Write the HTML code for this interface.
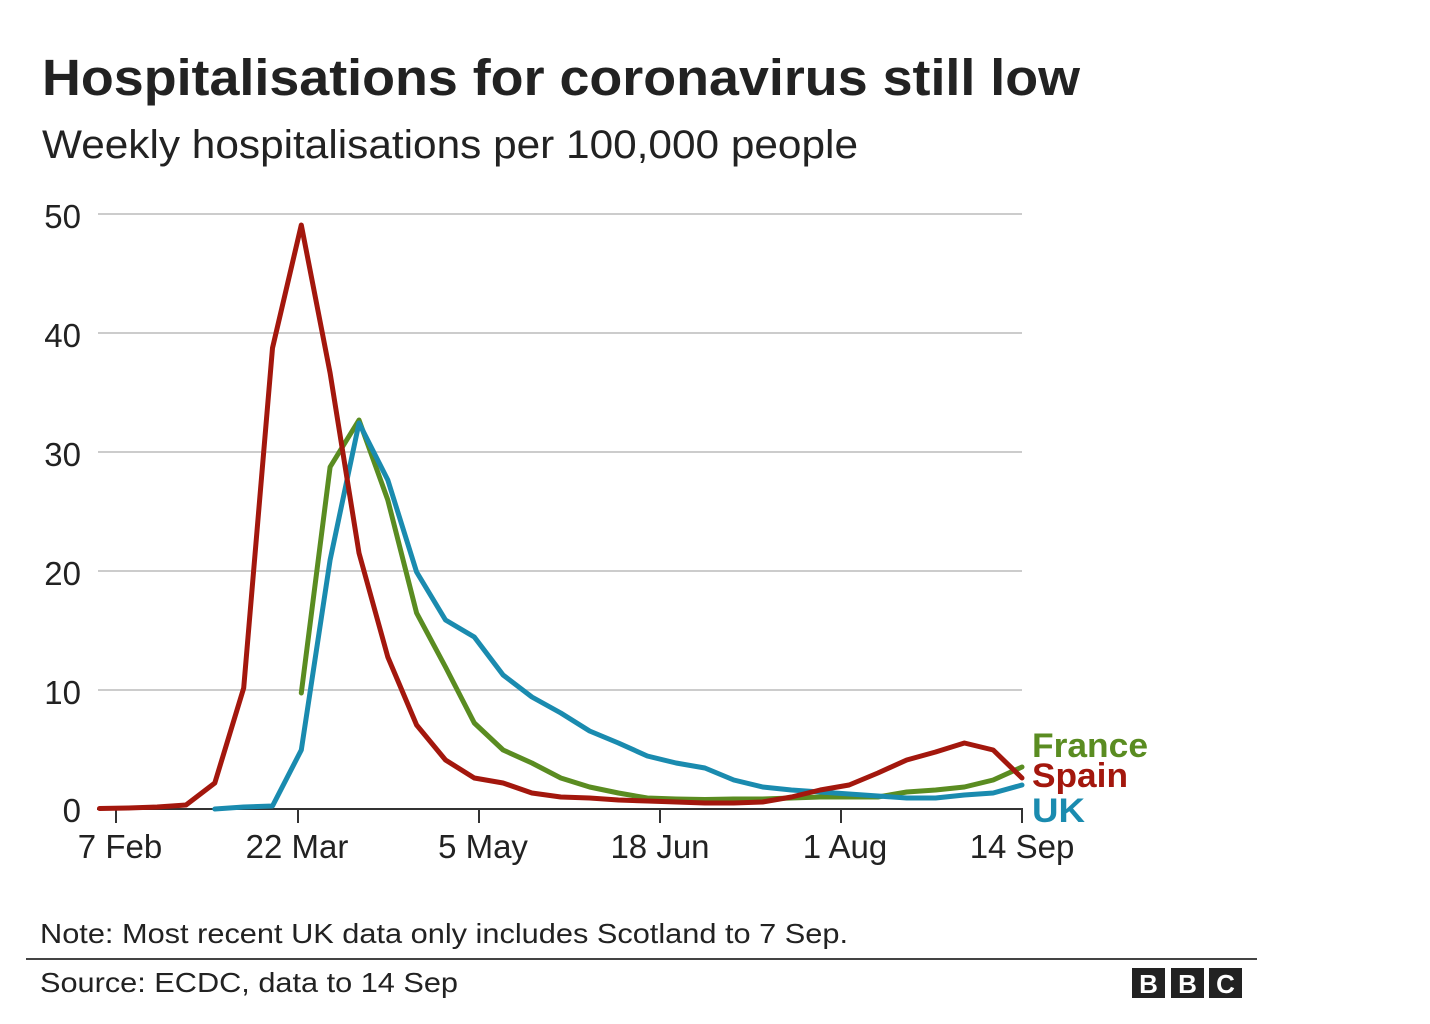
<!DOCTYPE html>
<html>
<head>
<meta charset="utf-8">
<style>
  html, body { margin:0; padding:0; background:#fff; }
  svg { display:block; }
  text { font-family: "Liberation Sans", Arial, sans-serif; }
</style>
</head>
<body>
<svg width="1430" height="1024" viewBox="0 0 1430 1024" xmlns="http://www.w3.org/2000/svg">
  <rect width="1430" height="1024" fill="#fff"/>

  <!-- Title & subtitle -->
  <text x="42" y="95" font-size="51" font-weight="bold" fill="#222" textLength="1038" lengthAdjust="spacingAndGlyphs">Hospitalisations for coronavirus still low</text>
  <text x="42" y="158" font-size="40" fill="#222" textLength="816" lengthAdjust="spacingAndGlyphs">Weekly hospitalisations per 100,000 people</text>

  <!-- Gridlines -->
  <g stroke="#cccccc" stroke-width="2">
    <line x1="98" y1="214" x2="1022" y2="214"/>
    <line x1="98" y1="333" x2="1022" y2="333"/>
    <line x1="98" y1="452" x2="1022" y2="452"/>
    <line x1="98" y1="571" x2="1022" y2="571"/>
    <line x1="98" y1="690" x2="1022" y2="690"/>
  </g>

  <!-- Y labels -->
  <g font-size="33" fill="#222" text-anchor="end">
    <text x="81" y="228">50</text>
    <text x="81" y="347">40</text>
    <text x="81" y="466">30</text>
    <text x="81" y="585">20</text>
    <text x="81" y="704">10</text>
    <text x="81" y="822">0</text>
  </g>

  <!-- Axis -->
  <line x1="97" y1="809" x2="1023" y2="809" stroke="#333" stroke-width="2"/>
  <g stroke="#333" stroke-width="2">
    <line x1="116" y1="809" x2="116" y2="823"/>
    <line x1="298" y1="809" x2="298" y2="823"/>
    <line x1="479" y1="809" x2="479" y2="823"/>
    <line x1="660" y1="809" x2="660" y2="823"/>
    <line x1="841" y1="809" x2="841" y2="823"/>
    <line x1="1022" y1="809" x2="1022" y2="823"/>
  </g>
  <g font-size="33" fill="#222" text-anchor="middle">
    <text x="120" y="858">7 Feb</text>
    <text x="297" y="858">22 Mar</text>
    <text x="483" y="858">5 May</text>
    <text x="660" y="858">18 Jun</text>
    <text x="845" y="858">1 Aug</text>
    <text x="1022" y="858">14 Sep</text>
  </g>

  <!-- Series -->
  <g fill="none" stroke-width="5" stroke-linejoin="round" stroke-linecap="round">
    <!-- France -->
    <polyline stroke="#5a8c21" points="301.3,693 330.1,467 359.0,420 387.8,500 416.6,613 445.5,667 474.3,723 503.1,750 531.9,763 560.8,778 589.6,787 618.4,793 647.3,798 676.1,799 704.9,799.5 733.8,799 762.6,799 791.4,798 820.2,797 849.1,797 877.9,797 906.7,792 935.6,790 964.4,787 993.2,780 1022.0,767"/>
    <!-- UK -->
    <polyline stroke="#1a8baf" points="214.8,809 243.7,807 272.5,806 301.3,750 330.1,560 359.0,423 387.8,480 416.6,572 445.5,620 474.3,637 503.1,675 531.9,697 560.8,713 589.6,731 618.4,743 647.3,756 676.1,763 704.9,768 733.8,780 762.6,787 791.4,790 820.2,792 849.1,794 877.9,796 906.7,798 935.6,798 964.4,795 993.2,793 1022.0,785"/>
    <!-- Spain -->
    <polyline stroke="#a3170d" points="99.5,808.5 128.3,808 157.2,807 186.0,805 214.8,783 243.7,688 272.5,348 301.3,225 330.1,373 359.0,553 387.8,657 416.6,725 445.5,760 474.3,778 503.1,783 531.9,793 560.8,797 589.6,798 618.4,800 647.3,801 676.1,802 704.9,803 733.8,803 762.6,802 791.4,797 820.2,790 849.1,785 877.9,773 906.7,760 935.6,752 964.4,743 993.2,750 1022.0,778"/>
  </g>

  <!-- Legend labels -->
  <g font-size="34" font-weight="bold">
    <text x="1032" y="757" fill="#5a8c21" textLength="116" lengthAdjust="spacingAndGlyphs">France</text>
    <text x="1032" y="787" fill="#a3170d" textLength="96" lengthAdjust="spacingAndGlyphs">Spain</text>
    <text x="1032" y="822" fill="#1a8baf" textLength="53" lengthAdjust="spacingAndGlyphs">UK</text>
  </g>

  <!-- Footer -->
  <text x="40" y="943" font-size="28" fill="#222" textLength="808" lengthAdjust="spacingAndGlyphs">Note: Most recent UK data only includes Scotland to 7 Sep.</text>
  <line x1="26" y1="959" x2="1257" y2="959" stroke="#444" stroke-width="2"/>
  <text x="40" y="992" font-size="28" fill="#222" textLength="418" lengthAdjust="spacingAndGlyphs">Source: ECDC, data to 14 Sep</text>

  <!-- BBC logo -->
  <g>
    <rect x="1132" y="968" width="33" height="30" fill="#222"/>
    <rect x="1171" y="968" width="33" height="30" fill="#222"/>
    <rect x="1209" y="968" width="33" height="30" fill="#222"/>
    <g font-size="26" font-weight="bold" fill="#fff" text-anchor="middle">
      <text x="1148.5" y="993">B</text>
      <text x="1187.5" y="993">B</text>
      <text x="1225.5" y="993">C</text>
    </g>
  </g>
</svg>
</body>
</html>
